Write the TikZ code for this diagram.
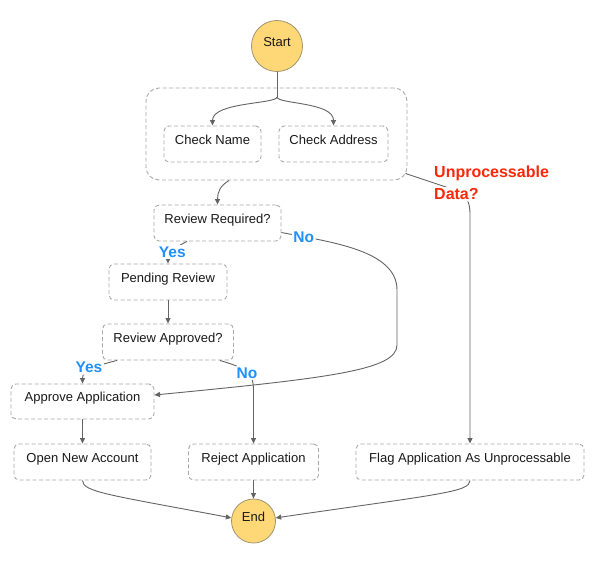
\documentclass[tikz,border=0pt]{standalone}
\usepackage{fontspec}
\setmainfont{Liberation Sans}
\usetikzlibrary{arrows.meta}
\definecolor{edgec}{RGB}{100,100,100}
\definecolor{boxc}{RGB}{168,168,168}
\definecolor{termfill}{RGB}{254,216,118}
\definecolor{termdraw}{RGB}{160,148,112}
\definecolor{yesno}{RGB}{30,144,255}
\definecolor{warn}{RGB}{250,40,10}
\begin{document}
\begin{tikzpicture}[x=1pt,y=-1pt,
  stepbox/.style={draw=boxc, line width=0.9pt, dash pattern=on 4pt off 2.5pt,
    rounded corners=5pt, fill=white, minimum height=36pt, inner sep=0pt,
    font=\fontsize{13}{15}\selectfont, text=black!90, text height=9pt, text depth=9pt},
  termnode/.style={circle, draw=termdraw, line width=0.8pt, fill=termfill,
    inner sep=0pt, font=\fontsize{13}{15}\selectfont, text=black!90, text height=9pt, text depth=9pt},
  ed/.style={draw=edgec, line width=0.9pt, -{Triangle[length=5.5pt,width=5pt]}},
  edplain/.style={draw=edgec, line width=0.9pt},
  choicelbl/.style={anchor=base, inner xsep=1.5pt, inner ysep=1.5pt, fill=white,
    rounded corners=2pt, text=yesno, font=\fontsize{15.5}{17}\selectfont\bfseries},
  warnlbl/.style={anchor=base west, inner xsep=1.5pt, inner ysep=1.5pt, fill=white,
    rounded corners=2pt, text=warn, font=\fontsize{16}{18}\selectfont\bfseries}
]
\useasboundingbox (0,0) rectangle (597,566);
\fill[white] (0,0) rectangle (597,566);

% nodes
\node[termnode, minimum size=51pt] (start) at (277,46) {Start};
\node[stepbox, rounded corners=13pt, minimum width=261pt, minimum height=92pt] (par) at (276.5,134) {};
\node[stepbox, minimum width=97pt] (chkname) at (212.5,144) {Check Name};
\node[stepbox, minimum width=109pt] (chkaddr) at (333.5,144) {Check Address};
\node[stepbox, minimum width=127pt] (revreq) at (217.5,223) {Review Required?};
\node[stepbox, minimum width=118pt] (pending) at (168,282) {Pending Review};
\node[stepbox, minimum width=131pt] (revapp) at (168,342) {Review Approved?};
\node[stepbox, minimum width=143pt, minimum height=35pt] (approve) at (82.5,401.5) {Approve Application};
\node[stepbox, minimum width=137pt] (opennew) at (82.5,462) {Open New Account};
\node[stepbox, minimum width=130pt] (reject) at (253.5,462) {Reject Application};
\node[stepbox, minimum width=228pt] (flag) at (470,462) {Flag Application As Unprocessable};
\node[termnode, minimum size=44pt] (endn) at (253.5,521) {End};

% connectors
\coordinate (split) at (277,97);
\draw[edplain] (start) -- (split);
\draw[ed] (split) .. controls (277,104) and (212.5,102) .. (chkname.north);
\draw[ed] (split) .. controls (277,104) and (333.5,102) .. (chkaddr.north);
\draw[ed] ([shift={(-47.5,0)}]par.south) .. controls (220,186) and (217.5,192) .. (revreq.north);
\draw[ed] ([shift={(-2,-7)}]par.south east) -- (452,189) .. controls (466,194) and (470,200) .. (470,215) -- (flag.north);
\draw[ed] ([shift={(-30.5,0)}]revreq.south) .. controls (172,249) and (168,252) .. (pending.north);
\draw[ed] ([shift={(0,9.5)}]revreq.east) .. controls (330,242) and (397,250) .. (397,290)
   -- (397,345) .. controls (397,370) and (330,378) .. ([shift={(0,-6.5)}]approve.east);
\draw[ed] (pending) -- (revapp);
\draw[ed] ([shift={(-51,0)}]revapp.south) .. controls (95,366) and (82.5,370) .. (approve.north);
\draw[ed] ([shift={(52,0)}]revapp.south) .. controls (245,368) and (253.5,372) .. (253.5,390) -- (reject.north);
\draw[ed] (approve) -- (opennew);
\draw[ed] (opennew.south) .. controls (82.5,492) and (110,495) .. (endn.172);
\draw[ed] (reject) -- (endn);
\draw[ed] (flag.south) .. controls (470,492) and (440,494) .. (endn.8);

% labels
\node[choicelbl] (yes1) at (172.3,257.3) {Yes};
\node[choicelbl] (no1) at (303.7,242.3) {No};
\node[choicelbl] (yes2) at (89,372.9) {Yes};
\node[choicelbl] (no2) at (247,378.3) {No};
\node[warnlbl] (unp1) at (432.5,177.5) {Unprocessable};
\node[warnlbl] (unp2) at (432.5,199.8) {Data?};
\end{tikzpicture}
\end{document}
